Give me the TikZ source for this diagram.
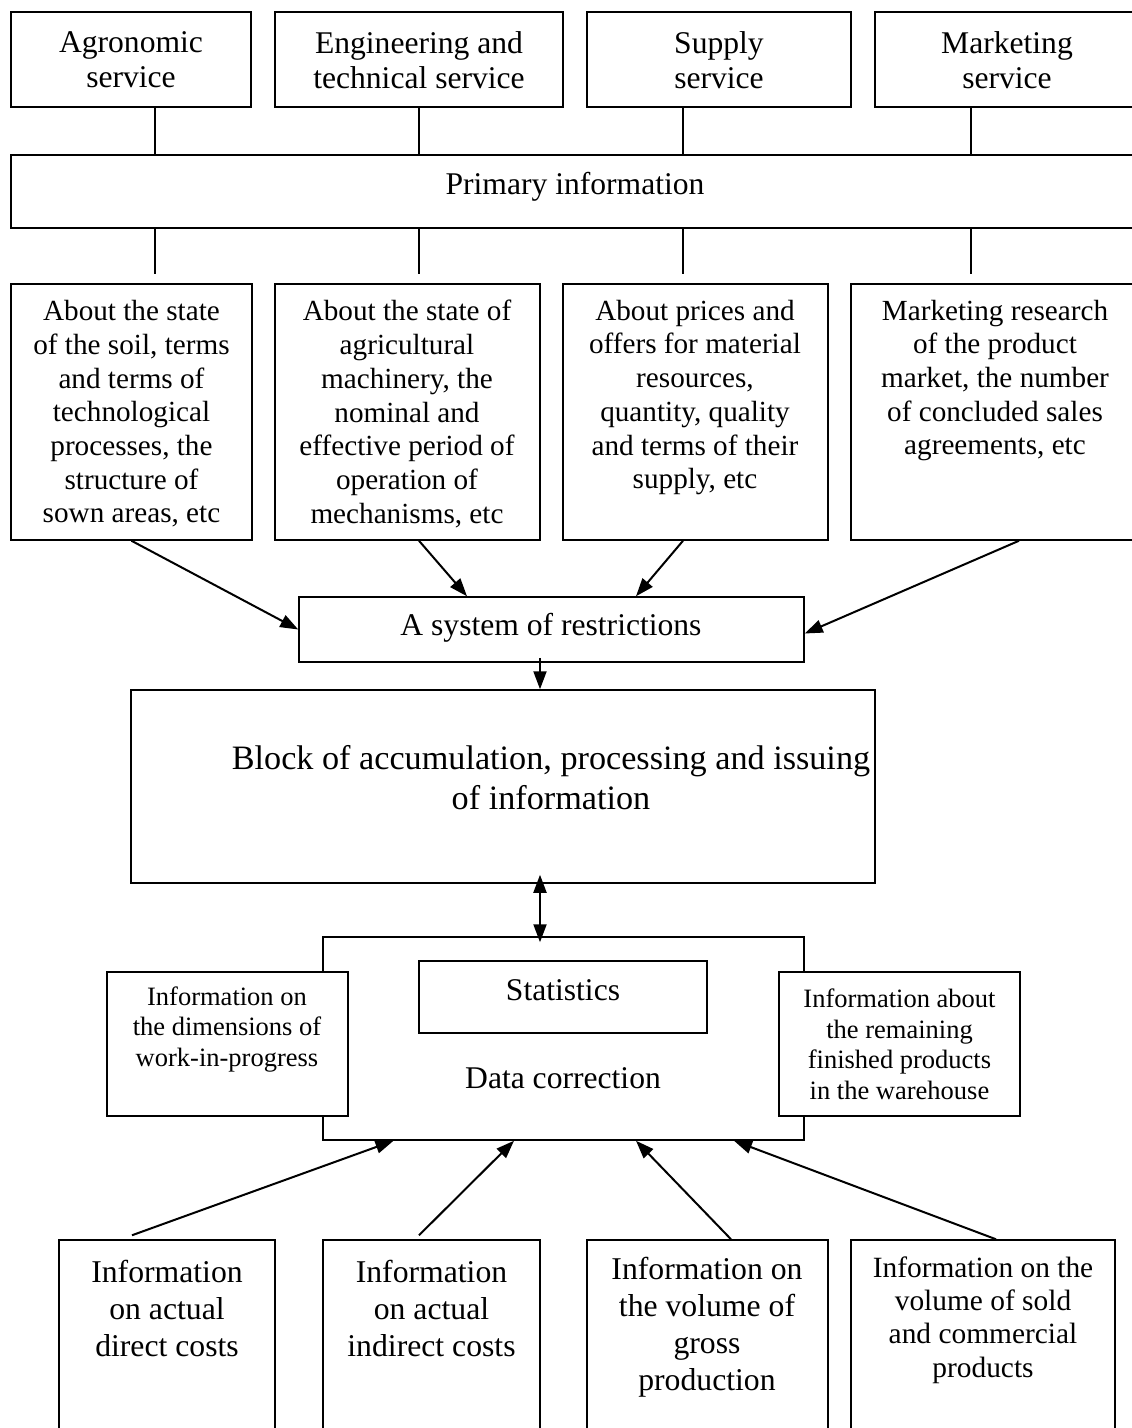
\documentclass[tikz,border=0pt]{standalone}
\usepackage{fontspec}
\setmainfont{Liberation Serif}
\usetikzlibrary{arrows.meta}
\begin{document}
\begin{tikzpicture}[x=1pt,y=-1pt,
  boxst/.style={draw, line width=1.5pt, fill=white, inner sep=0pt, rectangle},
  txt/.style={align=center, inner sep=0pt},
  fbig/.style={font=\fontsize{31.6}{35}\selectfont},
  fmid/.style={font=\fontsize{29.2}{33.7}\selectfont},
  fsmall/.style={font=\fontsize{26.5}{30.5}\selectfont},
  fblock/.style={font=\fontsize{34.2}{40}\selectfont},
  fbot/.style={font=\fontsize{31.7}{37}\selectfont},
  fbotb/.style={font=\fontsize{29.4}{33.3}\selectfont},
  ln/.style={line width=1.5pt},
  arr/.style={line width=2pt, -{Triangle[length=18pt,width=13pt]}},
  biarr/.style={line width=2pt, {Triangle[length=18pt,width=13pt]}-{Triangle[length=18pt,width=13pt]}}
]
\useasboundingbox (0,0) rectangle (1132,1428);
\clip (0,0) rectangle (1132,1428);

% services
\node[boxst, minimum width=240pt, minimum height=95pt] (agro) at (131,59.5) {};
\node[boxst, minimum width=288pt, minimum height=95pt] (eng)  at (419,59.5) {};
\node[boxst, minimum width=264pt, minimum height=95pt] (sup)  at (719,59.5) {};
\node[boxst, minimum width=264pt, minimum height=95pt] (mkt)  at (1007,59.5) {};
\node[txt, fbig] (tagro) at (131,60) {Agronomic\\service};
\node[txt, fbig] (teng)  at (419,60) {Engineering and\\technical service};
\node[txt, fbig] (tsup)  at (719,60) {Supply\\service};
\node[txt, fbig] (tmkt)  at (1007,60) {Marketing\\service};

% primary information
\node[boxst, minimum width=1129pt, minimum height=73pt] (prim) at (575.5,191.5) {};
\node[txt, fbig] (tprim) at (575,187) {Primary information};

% contents of the primary information
\node[boxst, minimum width=241pt, minimum height=256pt] (m1) at (131.5,412) {};
\node[boxst, minimum width=265pt, minimum height=256pt] (m2) at (407.5,412) {};
\node[boxst, minimum width=265pt, minimum height=256pt] (m3) at (695.5,412) {};
\node[boxst, minimum width=288pt, minimum height=256pt] (m4) at (995,412) {};
\node[txt, fmid] (tm1) at (131.5,414) {About the state\\of the soil, terms\\and terms of\\technological\\processes, the\\structure of\\sown areas, etc};
\node[txt, fmid] (tm2) at (407,414) {About the state of\\agricultural\\machinery, the\\nominal and\\effective period of\\operation of\\mechanisms, etc};
\node[txt, fmid] (tm3) at (695,397.5) {About prices and\\offers for material\\resources,\\quantity, quality\\and terms of their\\supply, etc};
\node[txt, fmid] (tm4) at (995,380.5) {Marketing research\\of the product\\market, the number\\of concluded sales\\agreements, etc};

% service -> primary -> content links
\coordinate (c1) at ([xshift=24pt]agro.south);
\coordinate (c2) at (eng.south);
\coordinate (c3) at ([xshift=-36pt]sup.south);
\coordinate (c4) at ([xshift=-36pt]mkt.south);
\foreach \c in {c1,c2,c3,c4}{
  \draw[ln] (\c) -- (\c |- prim.north);
  \coordinate (\c e) at ([yshift=9pt]\c |- m1.north);
  \draw[ln] (\c |- prim.south) -- (\c e);
}

% restrictions
\node[boxst, minimum width=505pt, minimum height=65pt] (restr) at (551.5,629.5) {};
\node[txt, fbig] (trestr) at (551,628) {A system of restrictions};

\draw[arr] (m1.south) -- (restr.west);
\draw[arr] ([xshift=11.5pt]m2.south) -- ([xshift=-84.5pt]restr.north);
\draw[arr] ([xshift=-12.5pt]m3.south) -- ([xshift=84.5pt]restr.north);
\draw[arr] ([xshift=24pt]m4.south) -- ([yshift=-4pt]restr.east);

% processing block
\node[boxst, minimum width=744pt, minimum height=193pt] (block) at (503,786.5) {};
\node[txt, fblock] (tblock) at (551,778) {Block of accumulation, processing and issuing\\of information};
\draw[arr] ([xshift=-11.5pt,yshift=5pt]restr.south) -- ([xshift=-11.5pt]restr.south |- block.north);

% data correction
\node[boxst, minimum width=481pt, minimum height=203pt] (dc) at (563.5,1038.5) {};
\node[boxst, minimum width=241pt, minimum height=144pt] (sideL) at (227.5,1044) {};
\node[boxst, minimum width=241pt, minimum height=144pt] (sideR) at (899.5,1044) {};
\node[boxst, minimum width=288pt, minimum height=72pt] (stat) at (563,997) {};
\node[txt, fbig] (tstat) at (563,990) {Statistics};
\node[txt, fbig] (tdc) at (563,1078) {Data correction};
\node[txt, fsmall] (tsideL) at (227,1029.5) {Information on\\the dimensions of\\work-in-progress};
\node[txt, fsmall] (tsideR) at (899.5,1044.5) {Information about\\the remaining\\finished products\\in the warehouse};

\coordinate (dtop) at ([xshift=-23.5pt,yshift=-6pt]dc.north);
\coordinate (btop) at ([xshift=37pt,yshift=9pt]block.south);
\draw[biarr] (btop) -- (dtop);

% actual data sources
\node[boxst, minimum width=216pt, minimum height=200pt] (b1) at (167,1340) {};
\node[boxst, minimum width=217pt, minimum height=200pt] (b2) at (431.5,1340) {};
\node[boxst, minimum width=241pt, minimum height=200pt] (b3) at (707.5,1340) {};
\node[boxst, minimum width=264pt, minimum height=200pt] (b4) at (983,1340) {};
\node[txt, fbot] (tb1) at (167,1308.5) {Information\\on actual\\direct costs};
\node[txt, fbot] (tb2) at (431.5,1308.5) {Information\\on actual\\indirect costs};
\node[txt, fbot] (tb3) at (707,1327) {Information on\\the volume of\\gross\\production};
\node[txt, fbotb] (tb4) at (983,1320) {Information on the\\volume of sold\\and commercial\\products};

\draw[arr] ([xshift=-35pt,yshift=4pt]b1.north) -- ([xshift=-170pt]dc.south);
\draw[arr] ([xshift=-12.5pt,yshift=4pt]b2.north) -- ([xshift=-49.5pt]dc.south);
\draw[arr] ([xshift=23.5pt]b3.north) -- ([xshift=72.5pt]dc.south);
\draw[arr] ([xshift=13pt]b4.north) -- ([xshift=170.5pt]dc.south);
\end{tikzpicture}
\end{document}
